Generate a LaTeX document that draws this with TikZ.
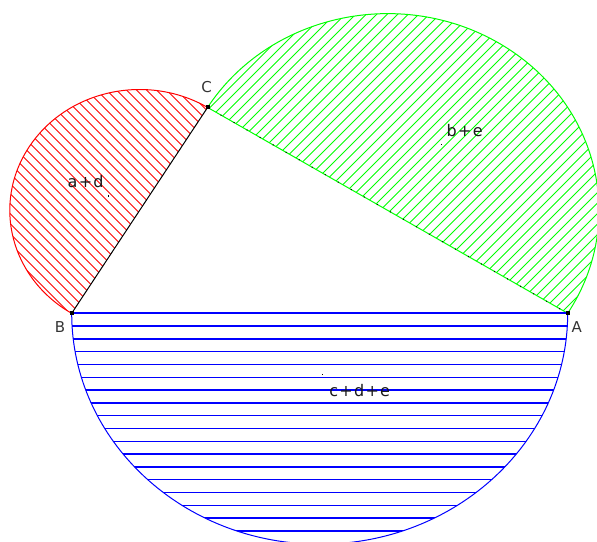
\documentclass[tikz,border=0pt]{standalone}
\usepackage{fontspec}
\setmainfont{DejaVu Sans}
\newfontfamily\lblfont[LetterSpace=8]{DejaVu Sans}
\begin{document}
\begin{tikzpicture}[x=1pt,y=0.931pt,
  vdot/.style={fill=black,inner sep=0pt,minimum size=4pt},
  ldot/.style={fill=black,inner sep=0pt,minimum size=1.5pt},
  vlabel/.style={font=\fontsize{15}{15}\selectfont,text=black!80,inner sep=0pt},
  area/.style={font=\lblfont\fontsize{16}{16}\selectfont,text=black!90,inner sep=0pt}]
\clip (-319.7,-245.6) rectangle (277.3,336.5);

\coordinate (B) at (-248,0);
\coordinate (A) at (248,0);
\coordinate (C) at (-112.1,221.1);

% red half disc on BC
\begin{scope}
\clip (C) arc[start angle=58.4,end angle=238.4,radius=129.8] -- cycle;
\foreach \c in {-330,-320,...,140}
  \draw[red,line width=0.9pt] ({\c+300},{-300/0.931}) -- ({\c-500},{500/0.931});
\end{scope}

% green half disc on CA
\begin{scope}
\clip (A) arc[start angle=-31.55,end angle=148.45,radius=211.3] -- cycle;
\foreach \c in {-262,-251.5,...,335}
  \draw[green,line width=0.9pt] ({-\c-300},{-300/0.931}) -- ({-\c+500},{500/0.931});
\end{scope}

% blue half disc on BA
\begin{scope}
\clip (A) arc[start angle=0,end angle=-180,radius=248] -- cycle;
\foreach \i in {1,...,18}
  \draw[blue,line width=1.4pt] (-260,{-13.75*\i}) -- (260,{-13.75*\i});
\end{scope}

\draw[red,line width=1pt] (C) arc[start angle=58.4,end angle=238.4,radius=129.8];
\draw[green,line width=1pt] (A) arc[start angle=-31.55,end angle=148.45,radius=211.3];
\draw[blue,line width=1pt] (A) arc[start angle=0,end angle=-180,radius=248];

\draw[black,line width=1pt] (B) -- (C);
\draw[green,line width=1pt] (C) -- (A);
\draw[black,line width=1pt,dash pattern=on 1pt off 14pt] (C) -- (A);
\draw[blue,line width=2.2pt] (B) -- (A);

\node[vdot] (b) at (B) {};
\node[vdot] (a) at (A) {};
\node[vdot] (c) at (C) {};

\node[vlabel] (lb) at (-259.7,-14.7) {B};
\node[vlabel] (la) at (257,-14.4) {A};
\node[vlabel] (lc) at (-113,243.4) {C};

\node[area] (ad) at (-234,141) {a+d};
\node[area] (be) at (145,196.3) {b+e};
\node[area] (cde) at (40,-82.6) {c+d+e};
\node[ldot] (ad0) at (-211.4,126) {};
\node[ldot] (be0) at (122,181.5) {};
\node[ldot] (cde0) at (3,-65.5) {};
\end{tikzpicture}
\end{document}
